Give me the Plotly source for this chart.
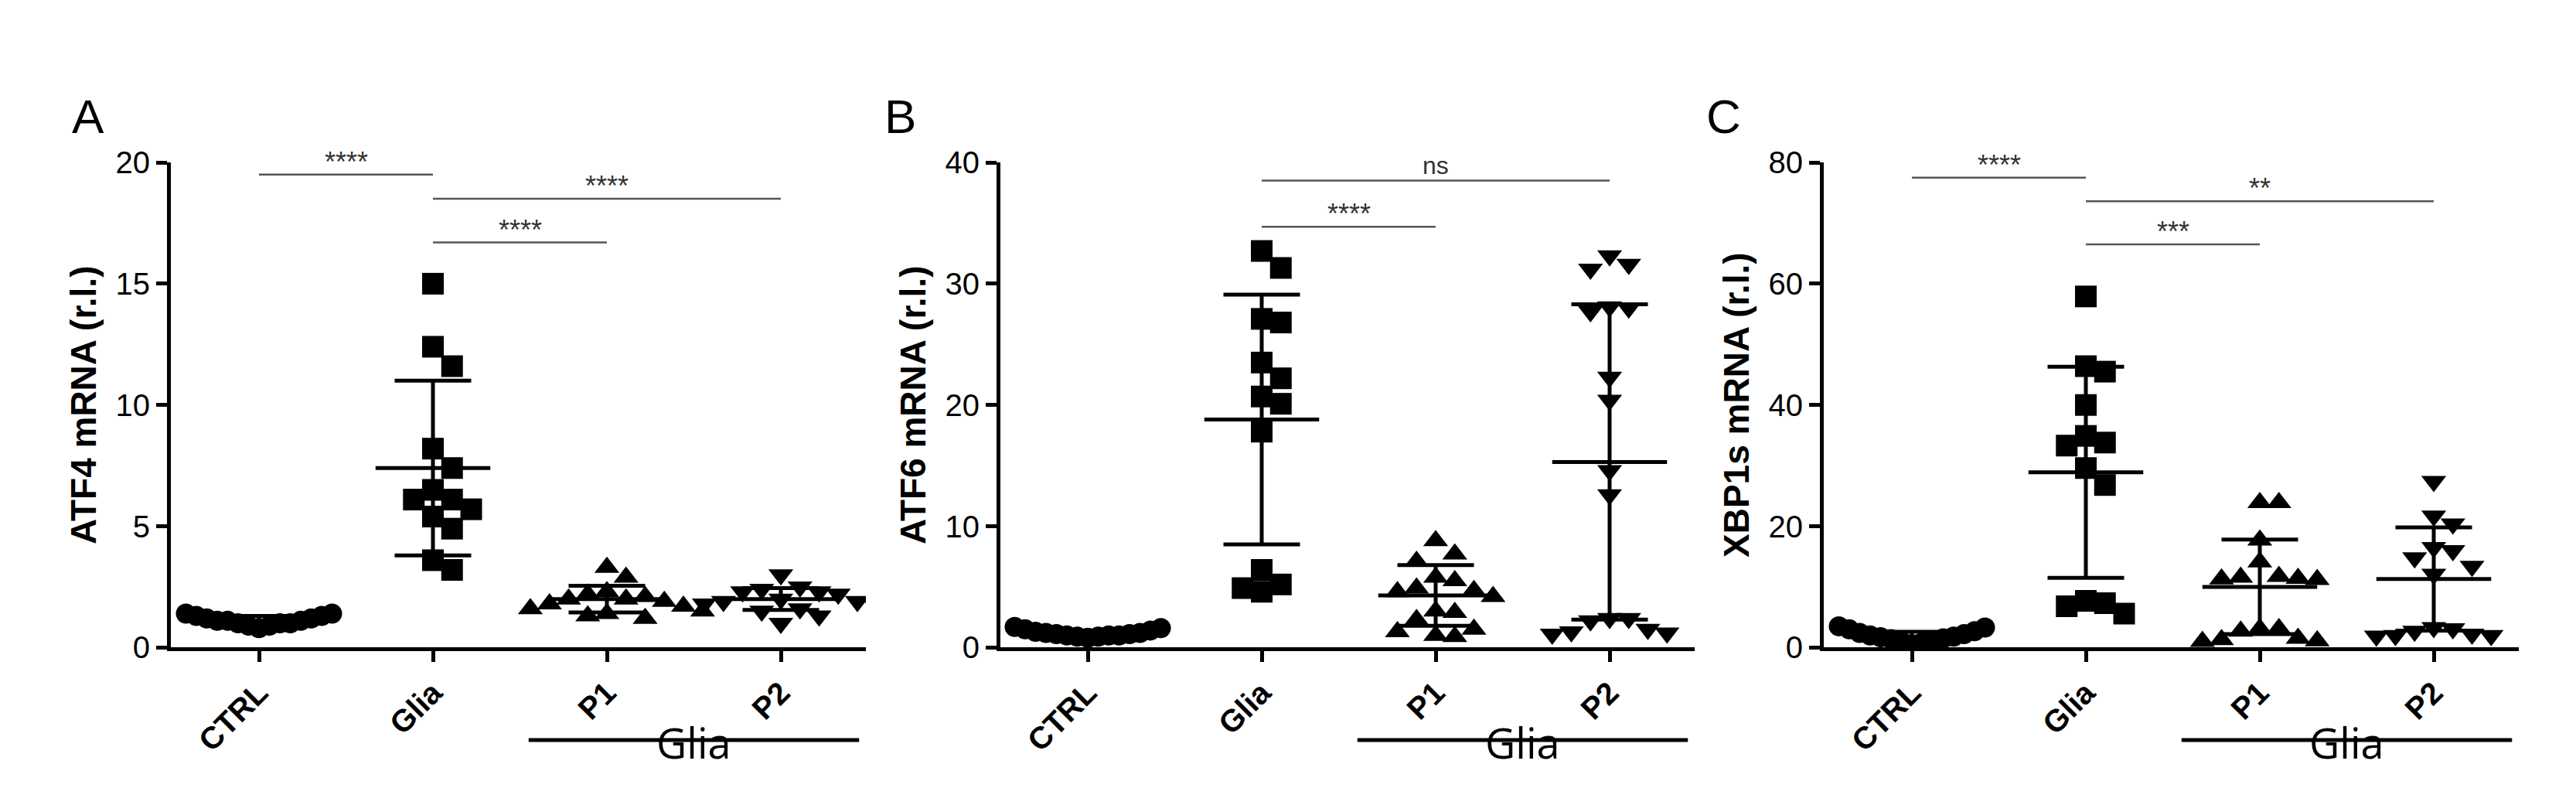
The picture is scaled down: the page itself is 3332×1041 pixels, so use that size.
import numpy as np
import plotly.graph_objects as go

groups = ['CTRL', 'Glia', 'P1', 'P2']
symbols = ['circle', 'square', 'triangle-up', 'triangle-down']

# panel A - ATF4
atf4_ctrl = [0.8, 0.9, 0.9, 1.0, 1.0, 1.0, 1.1, 1.1, 1.1, 1.2, 1.2, 1.3, 1.3, 1.4, 1.4]
atf4_glia = [15.0, 12.4, 11.6, 8.2, 7.4, 6.5, 6.1, 6.1, 5.7, 5.4, 4.9, 3.6, 3.2]
atf4_p1 = [3.3, 2.9, 2.3, 2.2, 2.1, 2.0, 2.0, 1.9, 1.8, 1.7, 1.6, 1.5, 1.4, 1.3, 1.2]
atf4_p2 = [3.0, 2.5, 2.4, 2.3, 2.3, 2.2, 2.0, 1.9, 1.9, 1.8, 1.7, 1.6, 1.5, 1.3, 1.0]
atf4_mean = [1.1, 7.4, 2.0, 2.0]
atf4_sd = [0.2, 3.6, 0.55, 0.45]

# panel B - ATF6
atf6_ctrl = [0.8, 0.9, 0.9, 1.0, 1.0, 1.0, 1.1, 1.1, 1.2, 1.2, 1.3, 1.4, 1.5, 1.6, 1.7]
atf6_glia = [32.7, 31.3, 27.1, 26.8, 23.5, 22.2, 20.7, 20.1, 17.8, 6.4, 5.2, 4.9, 4.6]
atf6_p1 = [8.8, 7.7, 7.1, 5.8, 5.5, 4.9, 4.7, 4.6, 4.2, 3.0, 2.9, 2.3, 1.5, 1.3, 1.0, 0.9]
atf6_p2 = [32.3, 31.6, 31.2, 28.1, 28.0, 27.7, 22.3, 20.4, 14.6, 12.6, 2.4, 2.4, 2.2, 1.5, 1.3, 1.2, 1.1]
atf6_mean = [1.1, 18.8, 4.3, 15.3]
atf6_sd = [0.3, 10.3, 2.5, 13.0]

# panel C - XBP1s
xbp_ctrl = [0.5, 0.8, 1.0, 1.2, 1.4, 1.5, 1.7, 1.8, 2.0, 2.2, 2.4, 2.7, 3.0, 3.3, 3.5]
xbp_glia = [57.9, 46.4, 45.5, 40.0, 34.9, 33.8, 33.3, 29.6, 26.8, 7.7, 7.3, 6.8, 5.6]
xbp_p1 = [23.9, 23.9, 17.7, 14.1, 11.7, 11.6, 11.4, 11.3, 11.2, 3.1, 3.1, 2.7, 1.5, 1.3, 1.1, 1.0]
xbp_p2 = [27.4, 21.7, 20.4, 16.5, 16.0, 14.8, 13.4, 12.1, 3.3, 3.1, 2.7, 2.2, 2.0, 2.0, 1.9]
xbp_mean = [1.8, 28.9, 10.0, 11.3]
xbp_sd = [0.8, 17.4, 7.8, 8.5]

panels = [
    dict(letter='A', title='ATF4 mRNA (r.l.)', ymax=20, dtick=5,
         data=[atf4_ctrl, atf4_glia, atf4_p1, atf4_p2], mean=atf4_mean, sd=atf4_sd,
         sig=[(0, 1, 19.5, '****'), (1, 3, 18.5, '****'), (1, 2, 16.7, '****')]),
    dict(letter='B', title='ATF6 mRNA (r.l.)', ymax=40, dtick=10,
         data=[atf6_ctrl, atf6_glia, atf6_p1, atf6_p2], mean=atf6_mean, sd=atf6_sd,
         sig=[(0, 1, 40.5, '****'), (1, 3, 38.5, 'ns'), (1, 2, 34.7, '****')]),
    dict(letter='C', title='XBP1s mRNA (r.l.)', ymax=80, dtick=20,
         data=[xbp_ctrl, xbp_glia, xbp_p1, xbp_p2], mean=xbp_mean, sd=xbp_sd,
         sig=[(0, 1, 77.5, '****'), (1, 3, 73.6, '**'), (1, 2, 66.5, '***')]),
]

W, H = 3332, 1041
axis_left = [213, 1286, 2351]   # pixel x of y-axis
cat0 = [327, 1399, 2465]        # pixel x of first category
step = 225
ytop, ybot = 188, 843


def swarm(vals, ymax, dx=0.1, dy_frac=0.045):
    # simple beeswarm: put each point at the smallest free offset
    placed = []
    offs = []
    for v in vals:
        k = 0
        while True:
            cands = [0.0] if k == 0 else [k * dx, -k * dx]
            ok = None
            for c in cands:
                if all(abs(c - o) >= dx * 0.95 or abs(v - pv) >= dy_frac * ymax for o, pv in placed):
                    ok = c
                    break
            if ok is not None:
                break
            k += 1
        placed.append((ok, v))
        offs.append(ok)
    return offs


fig = go.Figure()
font_tick = dict(family='Liberation Sans', size=40, color='black')

for i, p in enumerate(panels):
    xa = 'x' if i == 0 else f'x{i + 1}'
    ya = 'y' if i == 0 else f'y{i + 1}'
    right = cat0[i] + 3 * step + 110
    lo = (axis_left[i] - cat0[i]) / step
    hi = (right - cat0[i]) / step
    for g in range(4):
        vals = p['data'][g]
        offs = swarm(vals, p['ymax'], dx=0.06 if g == 0 else 0.11)
        fig.add_trace(go.Scatter(
            x=[g + o for o in offs], y=vals, mode='markers', xaxis=xa, yaxis=ya,
            marker=dict(symbol=symbols[g], size=28 if g else 26, color='black'),
            showlegend=False, hoverinfo='skip'))
        m, s = p['mean'][g], p['sd'][g]
        lw = 5
        fig.add_shape(type='line', xref=xa, yref=ya, x0=g - 0.33, x1=g + 0.33, y0=m, y1=m,
                      line=dict(color='black', width=lw))
        fig.add_shape(type='line', xref=xa, yref=ya, x0=g, x1=g, y0=max(m - s, 0), y1=m + s,
                      line=dict(color='black', width=lw))
        for yv in (m - s, m + s):
            if yv > 0:
                fig.add_shape(type='line', xref=xa, yref=ya, x0=g - 0.22, x1=g + 0.22, y0=yv, y1=yv,
                              line=dict(color='black', width=lw))
    for a, b, yv, txt in p['sig']:
        fig.add_shape(type='line', xref=xa, yref=ya, x0=a, x1=b, y0=yv, y1=yv,
                      line=dict(color='#555555', width=2.5))
        fig.add_annotation(x=(a + b) / 2, y=yv, xref=xa, yref=ya, text=txt, showarrow=False,
                           yanchor='bottom', yshift=-6 if txt != 'ns' else 0,
                           font=dict(family='Liberation Sans', size=36 if txt != 'ns' else 32,
                                     color='#333333'))
    # group bracket under P1/P2
    fig.add_shape(type='line', xref=xa, yref='paper', x0=1.55, x1=3.45,
                  y0=1 - 968 / H, y1=1 - 968 / H, line=dict(color='black', width=5))
    fig.add_annotation(x=2.5, y=1 - 1012 / H, xref=xa, yref='paper', text='Glia', showarrow=False,
                       font=dict(family='Open Sans', size=54, color='black'))
    fig.add_annotation(x=(axis_left[i] - 130) / W, y=1 - 88 / H, xref='paper', yref='paper',
                       text=p['letter'], showarrow=False,
                       font=dict(family='Liberation Sans', size=62, color='black'))
    fig.layout[('xaxis' if i == 0 else f'xaxis{i + 1}')] = dict(
        domain=[axis_left[i] / W, right / W], range=[lo, hi], anchor=ya,
        tickvals=[0, 1, 2, 3], ticktext=[f'<b>{g}</b>' for g in groups], tickangle=-45,
        tickfont=font_tick, showline=True, linecolor='black', linewidth=5,
        ticks='outside', ticklen=14, tickwidth=5, tickcolor='black', showgrid=False, zeroline=False)
    fig.layout[('yaxis' if i == 0 else f'yaxis{i + 1}')] = dict(
        domain=[1 - ybot / H, 1 - ytop / H], range=[0, p['ymax']], anchor=xa,
        dtick=p['dtick'], tickfont=font_tick, showline=True, linecolor='black', linewidth=5,
        ticks='outside', ticklen=14, tickwidth=5, tickcolor='black', showgrid=False, zeroline=False,
        title=dict(text=f"<b>{p['title']}</b>", font=dict(family='Liberation Sans', size=46, color='black'),
                   standoff=12))

fig.update_layout(width=W, height=H, margin=dict(l=0, r=0, t=0, b=0),
                  plot_bgcolor='white', paper_bgcolor='white')
fig.write_html('out.html')
